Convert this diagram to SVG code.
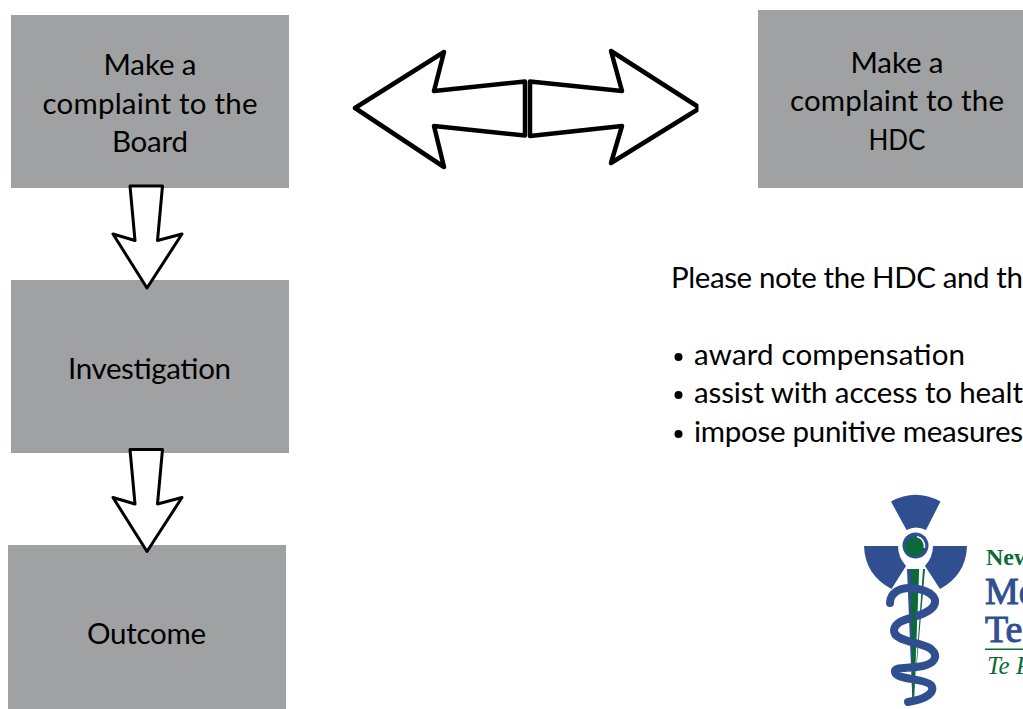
<svg xmlns="http://www.w3.org/2000/svg" width="1023" height="709" viewBox="0 0 1023 709">
<style>
.box{fill:#a0a1a3}
.t{font-family:"Lato","Open Sans","Liberation Sans",sans-serif;font-size:29.500px;fill:#000}
.m{text-anchor:middle}
.arrow{fill:#fff;stroke:#000;stroke-linejoin:round}
.blue{fill:#304f90}
.green{fill:#0a6b38}
.serif{font-family:"Liberation Serif",serif}
</style>
<rect width="1023" height="709" fill="#fff"/>
<g id="node-board"><rect class="box" x="11" y="15" width="278" height="173"/>
<text class="t m" x="150" y="75" textLength="93">Make a</text><text class="t m" x="150" y="114" textLength="215">complaint to the</text><text class="t m" x="150" y="152" textLength="76">Board</text></g>
<g id="node-investigation"><rect class="box" x="11" y="280" width="278" height="173"/>
<text class="t m" x="149.500" y="379" textLength="163">Investigation</text></g>
<g id="node-outcome"><rect class="box" x="8" y="545" width="278" height="164"/>
<text class="t m" x="146.500" y="644" textLength="119">Outcome</text></g>
<g id="node-hdc"><rect class="box" x="758" y="10" width="265" height="178"/>
<text class="t m" x="897" y="73" textLength="93">Make a</text><text class="t m" x="897" y="111" textLength="214">complaint to the</text><text class="t m" x="897" y="150" textLength="57" lengthAdjust="spacingAndGlyphs">HDC</text></g>
<g id="connectors">
<path class="arrow" stroke-width="4.500" d="M355 108 444 52 434 91 525 81.500V135.500L434 126 444 167Z"/>
<path class="arrow" stroke-width="4.500" d="M530 81.500 622 91 611 51 700 108 611 163 622 126 530 136Z"/>
<rect x="698.500" y="95" width="5" height="26" fill="#fff"/>
<path class="arrow" stroke-width="3" d="M130 186H162.500L157.500 240.500 182 234 147 288 113 234 135 240.500Z"/>
<path class="arrow" stroke-width="3" d="M130 449.500H162.500L157.500 504 182 497.500 147 551.500 113 497.500 135 504Z"/>
</g>
<g id="note">
<text class="t" x="671" y="288" textLength="352">Please note the HDC and th</text>
<circle cx="678.500" cy="357" r="4"/><text class="t" x="694" y="365" textLength="271">award compensation</text>
<circle cx="678.500" cy="395" r="4"/><text class="t" x="694" y="403" textLength="329">assist with access to healt</text>
<circle cx="678.500" cy="434" r="4"/><text class="t" x="694" y="442" textLength="329">impose punitive measures</text>
</g>
<g id="logo">
<path class="blue" d="M891 501.500Q915.500 488 940.500 501.500L926 530Q916 525 906.500 530Z"/>
<path class="blue" d="M864 546H898Q898 557 906 566L891.500 589Q865 575 864 546Z"/>
<path class="blue" d="M967 546H933Q933 557 925 566L940 589Q966 575 967 546Z"/>
<circle class="blue" cx="915.500" cy="545.500" r="13"/>
<circle class="green" cx="915" cy="546.500" r="9.500"/>
<path d="M917 536.500Q925 539 924.500 548" fill="none" stroke="#fff" stroke-width="1.500"/>
<path class="blue" d="M907 569H919L913.500 703H912.500Z"/>
<path class="green" d="M911 569H919L914 703H912.500Z"/>
<path class="green" d="M923 569H925L913.500 703Z"/>
<path fill="none" stroke="#304f90" stroke-width="8" stroke-linecap="round" d="M890 603C890 593 900 587 912 588C932 590 941 600 931 609C920 619 896 617 894 630C893 642 922 642 931 649C939 656 935 663 923 666C908 669 894 666 895 672C896 680 924 678 931 685C936 692 927 699 908 702"/>
<path class="green" d="M911.500 600H916L913.500 640H912Z"/>
<text class="serif green" font-weight="700" font-size="24" x="986" y="565">New</text>
<text class="serif blue" font-size="38" stroke="#304f90" stroke-width="1" x="985" y="604">Me</text>
<text class="serif blue" font-size="38" stroke="#304f90" stroke-width="1" x="985" y="642">Te</text>
<rect class="green" x="985" y="648.500" width="38" height="1.500"/>
<text class="serif green" font-size="25" font-style="italic" x="987" y="674">Te P</text>
</g>
</svg>
